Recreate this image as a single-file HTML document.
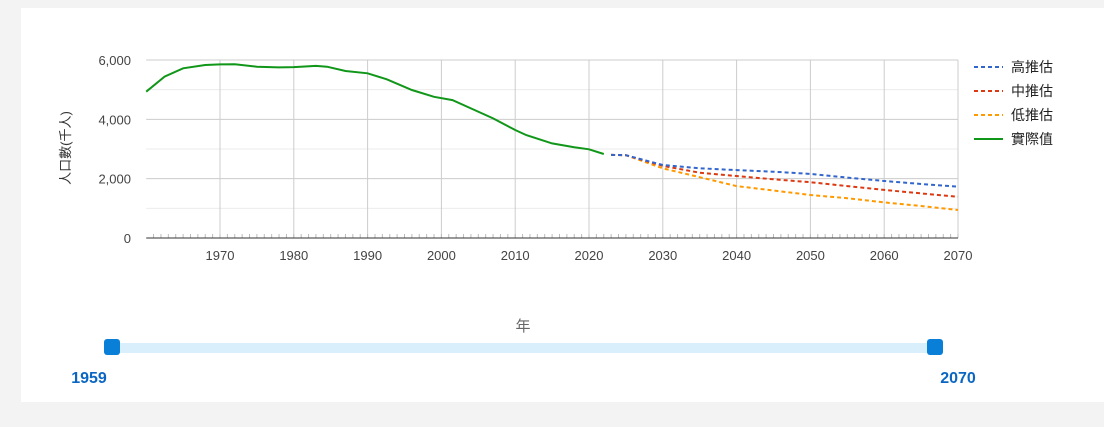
<!DOCTYPE html>
<html><head><meta charset="utf-8"><style>
body{margin:0;width:1104px;height:438px;background:#fff;overflow:hidden;font-family:"Liberation Sans","Noto Sans CJK TC",sans-serif}
#bg{position:absolute;left:0;top:0;width:1104px;height:427px;background:#f3f3f3}
#panel{position:absolute;left:21px;top:8px;width:1083px;height:394px;background:#fff}
svg{position:absolute;left:0;top:0}
</style></head><body>
<div id="bg"></div>
<div id="panel"></div>
<svg id="chart" width="1104" height="438"></svg>
<script>
const actualYears=[1960,1962.5,1965,1968,1970,1972,1975,1978,1980,1983,1984.5,1987,1990,1992.6,1996,1999,2001.5,2004,2007,2010,2011.5,2015,2018,2020,2022];
const actualValues=[4930,5440,5720,5830,5850,5860,5775,5750,5760,5800,5775,5630,5550,5350,4990,4760,4650,4370,4030,3640,3470,3190,3060,2990,2830];
const projYears=[2023,2025,2030,2035,2040,2045,2050,2055,2060,2065,2070];
const highValues=[2800,2790,2460,2350,2290,2235,2160,2035,1920,1820,1730];
const midValues=[2800,2790,2430,2200,2090,1980,1880,1750,1620,1505,1390];
const lowValues=[2800,2790,2350,2050,1750,1600,1450,1340,1200,1080,945];
const yTicks=[0,2000,4000,6000];
const yTickLabels=["0","2,000","4,000","6,000"];
const xTicks=[1970,1980,1990,2000,2010,2020,2030,2040,2050,2060,2070];
const legendLabels=["高推估","中推估","低推估","實際值"];
const legendColors=["#3366cc","#dc3912","#ff9900","#109618"];

const X0=146.2,X1=958,Y0=238,Y1=60;
const xS=v=>X0+(v-1960)*(X1-X0)/110;
const yS=v=>Y0-v*(Y0-Y1)/6000;
const svg=document.getElementById('chart');
const NS='http://www.w3.org/2000/svg';
function mk(t,a){const e=document.createElementNS(NS,t);for(const k in a)e.setAttribute(k,a[k]);svg.appendChild(e);return e;}
for(let v=1000;v<=6000;v+=2000){const l=mk('line',{x1:X0,x2:X1,y1:yS(v),y2:yS(v),stroke:'#ebebeb'});

}
yTicks.forEach((v,i)=>{
 if(v>0){const l=mk('line',{x1:X0,x2:X1,y1:yS(v),y2:yS(v),stroke:'#cccccc'});
 
 }
 const t=mk('text',{x:131,y:yS(v)+5,'text-anchor':'end','font-size':13,fill:'#444'});t.textContent=yTickLabels[i];
 
 
});
xTicks.forEach(v=>{
 const l=mk('line',{x1:xS(v),x2:xS(v),y1:Y1,y2:Y0,stroke:'#cccccc'});
 
 
 const t=mk('text',{x:xS(v),y:260,'text-anchor':'middle','font-size':13,fill:'#444'});t.textContent=v;
 
 
});
for(let yr=1961;yr<=2070;yr++){const l=mk('line',{x1:xS(yr),x2:xS(yr),y1:Y0-4,y2:Y0,stroke:'#bbb'});

}
const ax=mk('line',{x1:X0,x2:X1,y1:Y0,y2:Y0,stroke:'#333','stroke-width':1});


const yt=mk('text',{x:0,y:0,'text-anchor':'middle','font-size':13,fill:'#333',transform:'translate(70,148) rotate(-90)'});yt.textContent='人口數(千人)';


function path(xs,vs){return xs.map((x,i)=>(i?'L':'M')+xS(x).toFixed(1)+','+yS(vs[i]).toFixed(1)).join('');}
[lowValues,midValues,highValues].forEach((vs,i)=>{
 const c=[legendColors[2],legendColors[1],legendColors[0]][i];
 const p=mk('path',{d:path(projYears,vs),fill:'none',stroke:c,'stroke-width':2,'stroke-dasharray':'4,3'});
 
 
});
const a=mk('path',{d:path(actualYears,actualValues),fill:'none',stroke:legendColors[3],'stroke-width':2});


legendLabels.forEach((s,i)=>{
 const y=67+i*24;
 const l=mk('line',{x1:974,x2:1003,y1:y,y2:y,stroke:legendColors[i],'stroke-width':2,'stroke-dasharray':i<3?'4,3':'none'});
 
 
 const t=mk('text',{x:1011,y:y+5,'font-size':14,fill:'#222'});t.textContent=s;
 
 
});
const xt=mk('text',{x:523,y:331,'text-anchor':'middle','font-size':15,fill:'#666'});xt.textContent='年';


const tr=mk('rect',{x:112,y:343,width:823,height:10,fill:'#d9effc'});


[[104,'range-handle-start'],[927,'range-handle-end']].forEach(([x,n])=>{
 const h=mk('rect',{x:x,y:339,width:16,height:16,rx:3,fill:'#0a7fd8'});
 
 
});
[[89,'1959','range-start-label'],[958,'2070','range-end-label']].forEach(([x,s,n])=>{
 const t=mk('text',{x:x,y:383,'text-anchor':'middle','font-size':16,'font-weight':'bold',fill:'#0b66c3'});t.textContent=s;
 
 
});
</script>
</body></html>
